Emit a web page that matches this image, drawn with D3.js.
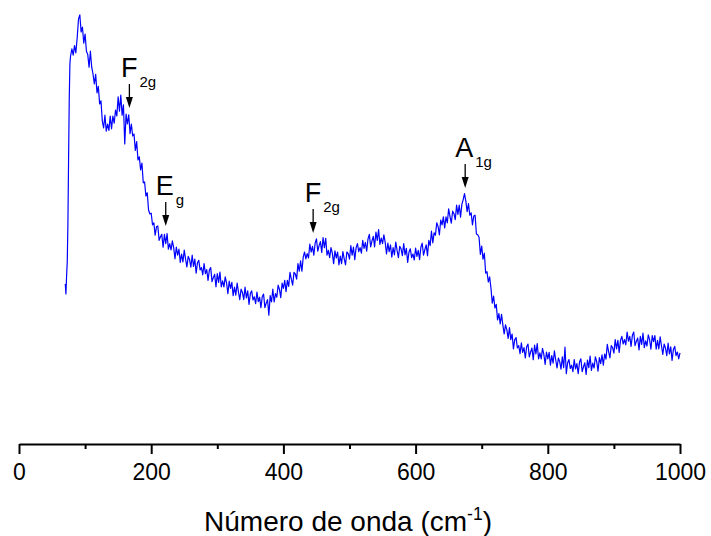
<!DOCTYPE html>
<html>
<head>
<meta charset="utf-8">
<script src="https://cdn.jsdelivr.net/npm/d3@7"></script>
<style>
  html, body { margin: 0; padding: 0; background: #fff; }
  svg { display: block; font-family: "Liberation Sans", Arial, sans-serif; }
</style>
</head>
<body>
<svg id="chart" width="711" height="536"></svg>
<script>
// Raman spectrum: [wavenumber (cm^-1), intensity (a.u.)]
const spectrum = [
  [70, 40], [71, 37.5], [72, 42], [73, 45.5], [74, 55], [75, 71], [76, 86], [77, 95],
  [78, 97.0], [80, 98.8], [82, 97.2], [84, 99.6], [86, 97.8], [88, 101.5], [90, 106.2], [92, 107.3],
  [94, 103.0], [96, 104.2], [98, 100.2], [100, 102.5], [102, 98.2], [104, 97.4], [106, 94.2], [108, 98.2],
  [110, 94.2], [112, 92.5], [114, 90.0], [116, 92.4], [118, 87.8], [120, 89.4], [122, 85.0], [124, 85.8],
  [126, 80.8], [128, 79.0], [130, 82.2], [132, 78.2], [134, 80.0], [136, 78.4], [138, 82.0], [140, 78.8],
  [142, 82.0], [144, 80.2], [146, 83.5], [148, 82.0], [150, 86.8], [152, 83.2], [154, 87.2], [156, 82.2],
  [158, 84.8], [160, 75.0], [162, 82.5], [164, 80.0], [166, 82.3], [168, 77.6], [170, 80.0], [172, 77.0],
  [174, 77.5], [176, 73.4], [178, 75.6], [180, 71.0], [182, 71.8], [184, 68.5], [186, 70.2], [188, 65.3],
  [190, 65.5], [192, 62.0], [194, 62.8], [196, 58.5], [198, 57.5],
  [200, 57.7], [202, 54.8], [204, 55.3], [206, 52.2], [208, 54.3], [210, 54.5], [212, 50.9], [214, 51.8],
  [216, 52.4], [218, 49.2], [220, 52.4], [222, 50.1], [224, 52.6], [226, 48.7], [228, 50.1], [230, 48.5],
  [232, 50.8], [234, 49.1], [236, 46.3], [238, 49.2], [240, 47.2], [242, 48.7], [244, 45.4], [246, 47.5],
  [248, 45.5], [250, 48.5], [252, 46.2], [254, 44.3], [256, 46.9], [258, 46.1], [260, 44.2], [262, 47.2],
  [264, 44.4], [266, 46.2], [268, 42.7], [270, 45.3], [272, 45.9], [274, 43.5], [276, 44.1], [278, 42.3],
  [280, 45.1], [282, 42.6], [284, 43.6], [286, 40.9], [288, 43.5], [290, 44.1], [292, 40.6], [294, 41.6],
  [296, 42.4], [298, 39.3], [300, 42.6], [302, 40.4], [304, 43.0], [306, 39.3], [308, 40.8], [310, 39.3],
  [312, 41.8], [314, 40.3], [316, 37.6], [318, 40.7], [320, 38.9], [322, 40.4], [324, 37.1], [326, 39.2],
  [328, 37.2], [330, 40.2], [332, 38.0], [334, 36.1], [336, 38.7], [338, 37.9], [340, 36.1], [342, 39.2],
  [344, 36.5], [346, 38.3], [348, 34.9], [350, 37.6], [352, 38.3], [354, 36.0], [356, 36.8], [358, 35.1],
  [360, 38.0], [362, 35.6], [364, 36.7], [366, 34.1], [368, 36.8], [370, 37.5], [372, 34.1], [374, 35.2],
  [376, 36.1], [378, 32.2], [380, 37.1], [382, 35.5], [384, 38.7], [386, 35.5], [388, 37.6], [390, 36.7],
  [392, 39.7], [394, 38.7], [396, 36.6], [398, 40.2], [400, 38.9], [402, 40.9], [404, 38.1], [406, 40.9],
  [408, 39.4], [410, 42.9], [412, 41.2], [414, 39.7], [416, 42.9], [418, 42.5], [420, 41.2], [422, 45.1],
  [424, 43.2], [426, 45.8], [428, 43.2], [430, 46.7], [432, 48.0], [434, 46.3], [436, 47.6], [438, 46.5],
  [440, 50.0], [442, 48.0], [444, 49.4], [446, 47.2], [448, 50.2], [450, 51.3], [452, 48.2], [454, 49.6],
  [456, 50.6], [458, 47.9], [460, 51.6], [462, 49.1], [464, 51.4], [466, 47.2], [468, 48.4], [470, 46.6],
  [472, 49.1], [474, 47.7], [476, 45.1], [478, 48.3], [480, 46.5], [482, 48.0], [484, 44.8], [486, 47.0],
  [488, 45.1], [490, 48.1], [492, 46.3], [494, 44.8], [496, 48.0], [498, 47.6], [500, 46.2], [502, 49.6],
  [504, 47.2], [506, 49.2], [508, 46.1], [510, 49.1], [512, 50.1], [514, 48.1], [516, 49.1], [518, 47.7],
  [520, 50.9], [522, 48.9], [524, 50.4], [526, 48.2], [528, 51.3], [530, 52.4], [532, 49.3], [534, 50.8],
  [536, 51.9], [538, 49.3], [540, 53.0], [542, 50.9], [544, 53.6], [546, 49.9], [548, 51.5], [550, 50.1],
  [552, 52.3], [554, 50.4], [556, 47.5], [558, 50.2], [560, 48.1], [562, 49.8], [564, 46.7], [566, 49.1],
  [568, 47.3], [570, 50.5], [572, 48.4], [574, 46.6], [576, 49.4], [578, 48.8], [580, 47.1], [582, 50.1],
  [584, 47.3], [586, 48.9], [588, 45.4], [590, 48.0], [592, 48.8], [594, 46.6], [596, 47.5], [598, 46.0],
  [600, 49.0], [602, 46.9], [604, 48.4], [606, 46.1], [608, 49.2], [610, 50.2], [612, 47.2], [614, 48.6],
  [616, 49.8], [618, 47.1], [620, 50.9], [622, 49.6], [624, 53.2], [626, 50.3], [628, 52.8], [630, 52.2],
  [632, 55.3], [634, 54.4], [636, 52.3], [638, 56.0], [640, 54.8], [642, 56.8], [644, 54.0], [646, 56.8],
  [648, 55.3], [650, 58.8], [652, 56.9], [654, 55.2], [656, 58.2], [658, 57.6], [660, 56.1], [662, 59.7],
  [664, 57.4], [666, 59.7], [668, 56.7], [670, 59.9], [672, 61.1], [674, 62.6], [676, 60.7], [678, 58.1],
  [680, 60.1], [682, 57.2], [684, 57.8], [686, 54.8], [688, 57.0], [690, 57.2], [692, 52.5], [694, 52.3],
  [696, 51.7], [698, 47.4], [700, 49.5], [702, 46.2], [704, 47.7], [706, 42.7], [708, 43.1], [710, 40.5],
  [712, 41.8], [714, 39.0], [716, 35.2], [718, 37.0], [720, 34.0], [722, 34.9], [724, 31.0], [726, 32.6],
  [728, 30.0], [730, 32.4], [732, 29.8], [734, 27.5], [736, 29.8], [738, 28.6], [740, 26.4], [742, 29.1],
  [744, 26.1], [746, 27.5], [748, 23.8], [750, 26.1], [752, 26.6], [754, 24.0], [756, 24.6], [758, 22.6],
  [760, 25.3], [762, 22.9], [764, 24.1], [766, 21.5], [768, 24.3], [770, 25.0], [772, 21.8], [774, 23.0],
  [776, 24.0], [778, 21.1], [780, 24.7], [782, 22.5], [784, 25.1], [786, 21.3], [788, 22.8], [790, 21.3],
  [792, 23.9], [794, 22.4], [796, 19.9], [798, 23.0], [800, 21.3], [802, 22.9], [804, 19.7], [806, 22.1],
  [808, 20.2], [810, 23.3], [812, 21.0], [814, 19.0], [816, 21.5], [818, 20.6], [820, 18.7], [822, 21.8],
  [824, 19.1], [826, 24.2], [828, 17.6], [830, 20.3], [832, 21.1], [834, 18.9], [836, 19.7], [838, 18.1],
  [840, 21.1], [842, 18.8], [844, 20.1], [846, 17.6], [848, 20.5], [850, 21.3], [852, 18.1], [854, 19.3],
  [856, 20.3], [858, 17.4], [860, 21.0], [862, 19.1], [864, 22.0], [866, 18.4], [868, 20.2], [870, 19.0],
  [872, 21.8], [874, 20.6], [876, 18.2], [878, 21.6], [880, 20.1], [882, 22.3], [884, 19.7], [886, 22.5],
  [888, 21.2], [890, 24.9], [892, 23.1], [894, 21.5], [896, 24.6], [898, 24.1], [900, 22.7], [902, 26.1],
  [904, 23.8], [906, 25.9], [908, 22.9], [910, 25.9], [912, 26.9], [914, 25.0], [916, 26.1], [918, 24.8],
  [920, 28.0], [922, 25.7], [924, 26.9], [926, 24.4], [928, 27.2], [930, 28.0], [932, 24.6], [934, 25.7],
  [936, 26.5], [938, 23.5], [940, 26.9], [942, 24.9], [944, 27.7], [946, 24.1], [948, 25.8], [950, 24.5],
  [952, 27.3], [954, 26.1], [956, 23.7], [958, 27.1], [960, 25.6], [962, 27.1], [964, 23.7], [966, 25.9],
  [968, 23.8], [970, 26.8], [972, 24.5], [974, 22.4], [976, 25.0], [978, 24.0], [980, 22.1], [982, 25.2],
  [984, 22.5], [986, 24.3], [988, 20.9], [990, 23.6], [992, 24.4], [994, 22.1], [996, 23.0], [998, 21.3],
  [1000, 22.8]
];

// Axis ticks
const majorTicks = [0, 200, 400, 600, 800, 1000];
const minorTicks = [100, 300, 500, 700, 900];

// Band assignments: symbol, subscript, band position (cm^-1), arrow tip intensity
const bandSymbols = ["F", "E", "F", "A"];
const bandSubscripts = ["2g", "g", "2g", "1g"];
const bandPositions = [167, 222, 445, 675];
const bandArrowTips = [84, 54.5, 52.75, 64];

const svg = d3.select("#chart");

const x = d3.scaleLinear().domain([0, 1000]).range([19, 680]);
const y = d3.scaleLinear().domain([0, 111]).range([444, 0]);

// Spectrum trace
const line = d3.line().x(d => x(d[0])).y(d => y(d[1]));
svg.append("path")
  .datum(spectrum)
  .attr("d", line)
  .attr("fill", "none")
  .attr("stroke", "#0000ff")
  .attr("stroke-width", 1.2)
  .attr("stroke-linejoin", "round");

// Bottom axis with major and minor ticks
const axisG = svg.append("g").attr("transform", "translate(0,444)");
axisG.call(d3.axisBottom(x).tickValues(majorTicks).tickSize(10).tickSizeOuter(0).tickFormat(d3.format("d")));
axisG.append("g").call(d3.axisBottom(x).tickValues(minorTicks).tickSize(5).tickSizeOuter(0).tickFormat(""))
  .select(".domain").remove();
axisG.selectAll(".domain").attr("stroke", "#000").attr("stroke-width", 2);
axisG.selectAll(".tick line").attr("stroke", "#000").attr("stroke-width", 2);
axisG.selectAll(".tick text")
  .attr("font-family", "Liberation Sans, Arial, sans-serif")
  .attr("font-size", 23)
  .attr("fill", "#000")
  .attr("y", 0)
  .attr("dy", 0)
  .attr("transform", "translate(0,35.5)");

// Axis title
const title = svg.append("text")
  .attr("x", 348)
  .attr("y", 531)
  .attr("text-anchor", "middle")
  .attr("font-size", 28)
  .attr("fill", "#000");
title.append("tspan").text("Número de onda (cm");
title.append("tspan").attr("font-size", 17.5).attr("dy", -11).text("-1");
title.append("tspan").attr("dy", 11).text(")");

// Band labels with arrows
const arrowLen = 24;
bandPositions.forEach((p, i) => {
  const ax = x(p);
  const tip = y(bandArrowTips[i]);
  const top = tip - arrowLen;
  svg.append("line")
    .attr("x1", ax).attr("x2", ax)
    .attr("y1", top).attr("y2", tip - 9)
    .attr("stroke", "#000").attr("stroke-width", 1.3);
  svg.append("path")
    .attr("d", `M${ax - 3.5},${tip - 11} L${ax + 3.5},${tip - 11} L${ax},${tip} Z`)
    .attr("fill", "#000");
  svg.append("text")
    .attr("x", ax + 8).attr("y", top - 7)
    .attr("text-anchor", "end")
    .attr("font-size", 27)
    .attr("fill", "#000")
    .text(bandSymbols[i]);
  svg.append("text")
    .attr("x", ax + 10).attr("y", top + 3)
    .attr("text-anchor", "start")
    .attr("font-size", 15)
    .attr("fill", "#000")
    .text(bandSubscripts[i]);
});
</script>
</body>
</html>
